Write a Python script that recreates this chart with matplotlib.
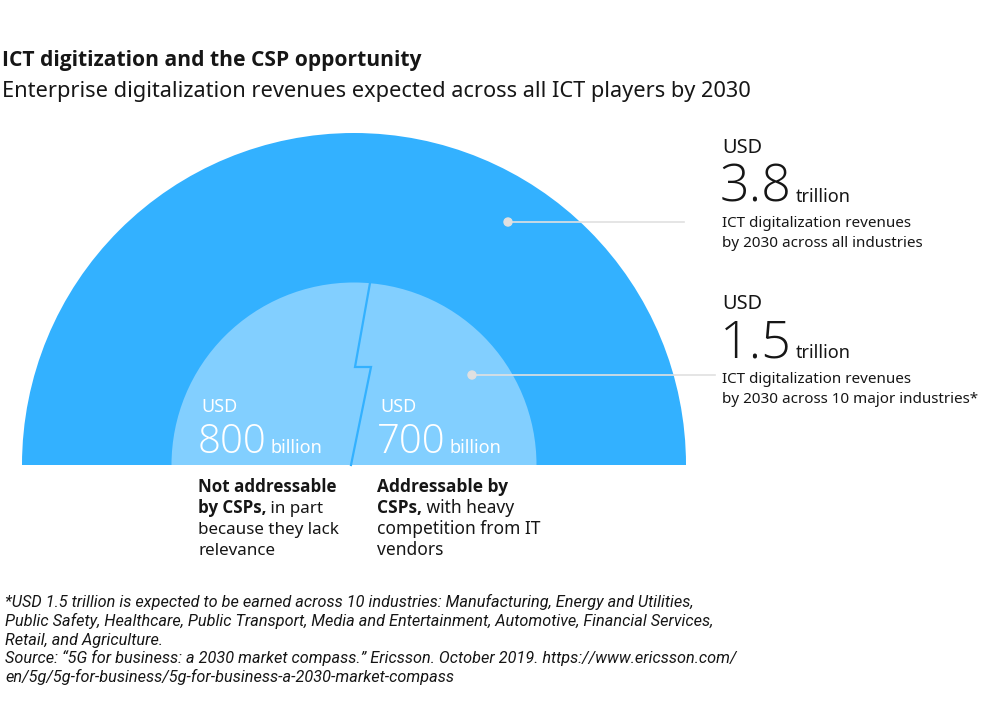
import matplotlib
matplotlib.use("Agg")
import matplotlib.pyplot as plt
from matplotlib import font_manager
from matplotlib.patches import Wedge, Circle

# chart content
title = "ICT digitization and the CSP opportunity"
subtitle = "Enterprise digitalization revenues expected across all ICT players by 2030"

total_value = "3.8"
total_unit = "trillion"
total_desc = ["ICT digitalization revenues", "by 2030 across all industries"]

major_value = "1.5"
major_unit = "trillion"
major_desc = ["ICT digitalization revenues", "by 2030 across 10 major industries*"]

split_values = ["800", "700"]
split_units = ["billion", "billion"]
split_bold = [["Not addressable", "by CSPs,"], ["Addressable by", "CSPs,"]]
split_rest = [[" in part", "because they lack", "relevance"],
              [" with heavy", "competition from IT", "vendors"]]

footnote = [
    "*USD 1.5 trillion is expected to be earned across 10 industries: Manufacturing, Energy and Utilities,",
    "Public Safety, Healthcare, Public Transport, Media and Entertainment, Automotive, Financial Services,",
    "Retail, and Agriculture.",
    "Source: \u201c5G for business: a 2030 market compass.\u201d Ericsson. October 2019. https://www.ericsson.com/",
    "en/5g/5g-for-business/5g-for-business-a-2030-market-compass",
]

# colours
OUTER = "#33b1ff"
INNER = "#82cfff"
INK = "#161616"
GREY = "#e0e0e0"


def pick(families, weight=400, style="normal"):
    # first installed family that has the wanted weight/style
    for fam in families:
        for f in font_manager.fontManager.ttflist:
            if f.name == fam and f.style == style:
                w = f.weight if isinstance(f.weight, int) else 400
                if abs(w - weight) <= 50:
                    return fam
    return families[-1]


FONT = pick(["Noto Sans", "Open Sans", "Roboto", "DejaVu Sans"])
BOLD = pick(["Noto Sans", "Open Sans", "Roboto", "Lato", "DejaVu Sans"], 700)
LIGHT = pick(["Noto Sans", "Open Sans", "Roboto", "Lato", "Inter", "DejaVu Sans"], 300)
ITAL = pick(["Roboto", "Noto Sans", "Open Sans", "DejaVu Sans"], 400, "italic")

fig = plt.figure(figsize=(10, 7.11), dpi=100)
ax = fig.add_axes([0, 0, 1, 1])
ax.set_xlim(0, 1000)
ax.set_ylim(711, 0)
ax.axis("off")
renderer = fig.canvas.get_renderer()


def put(x, y, s, width=None, size=12, **kw):
    kw.setdefault("color", INK)
    kw.setdefault("family", FONT)
    t = ax.text(x, y, s, fontsize=size, ha="left", va="baseline", **kw)
    if width:
        w = t.get_window_extent(renderer).width
        t.set_fontsize(size * width / w)
    return t


def right_edge(t):
    return t.get_window_extent(renderer).x1


# semicircles
cx, cy = 354, 465
ax.add_patch(Wedge((cx, cy), 332, 180, 360, facecolor=OUTER, edgecolor="none"))
ax.add_patch(Wedge((cx, cy), 182.5, 180, 360, facecolor=INNER, edgecolor="none"))

# zigzag divider in the inner half
zx = [370, 355, 371, 351]
zy = [283, 367, 367, 465]
ax.plot(zx, zy, color=OUTER, lw=1.6, solid_joinstyle="miter")

# leader lines with dots
for (x0, x1, y) in [(508, 684, 222), (472, 715, 375)]:
    ax.plot([x0, x1], [y, y], color=GREY, lw=1.2, zorder=3)
    ax.add_patch(Circle((x0, y), 4, color=GREY, zorder=4))

# title
put(2, 66, title, width=420, size=15, weight="bold", family=BOLD)
put(2, 97, subtitle, width=746, size=16)

# right hand labels
for (val, unit, desc, y0) in [(total_value, total_unit, total_desc, 153),
                              (major_value, major_unit, major_desc, 309)]:
    put(722, y0, "USD", width=40, size=12)
    big = put(720, y0 + 49, val, width=72, size=45, weight="light", family=LIGHT)
    put(right_edge(big) + 4, y0 + 49, unit, width=55, size=13)
    ref = put(722, y0 + 74, desc[0], width=188, size=12)
    put(722, y0 + 94, desc[1], size=ref.get_fontsize())

# values inside the inner half
for i, x in enumerate([198, 377]):
    put(x + 3, 412, "USD", width=36, size=12, color="white")
    big = put(x, 453, split_values[i], width=69, size=35, weight="light",
              family=LIGHT, color="white")
    put(right_edge(big) + 4, 453, split_units[i], width=52, size=13, color="white")

# descriptions under the halves
for i, x in enumerate([198, 377]):
    ref = put(x, 534, split_rest[i][1], width=141 if i == 0 else 162, size=12)
    fs = ref.get_fontsize()
    put(x, 492, split_bold[i][0], size=fs, weight="bold", family=BOLD)
    b = put(x, 513, split_bold[i][1], size=fs, weight="bold", family=BOLD)
    put(right_edge(b), 513, split_rest[i][0], size=fs)
    put(x, 555, split_rest[i][2], size=fs)

# footnote
ref = put(5, 607 + 18.8, footnote[1], width=707, size=11, style="italic", family=ITAL)
for i, line in enumerate(footnote):
    if i == 1:
        continue
    put(5, 607 + 18.8 * i, line, size=ref.get_fontsize(), style="italic", family=ITAL)

fig.savefig("out.png", dpi=100)
